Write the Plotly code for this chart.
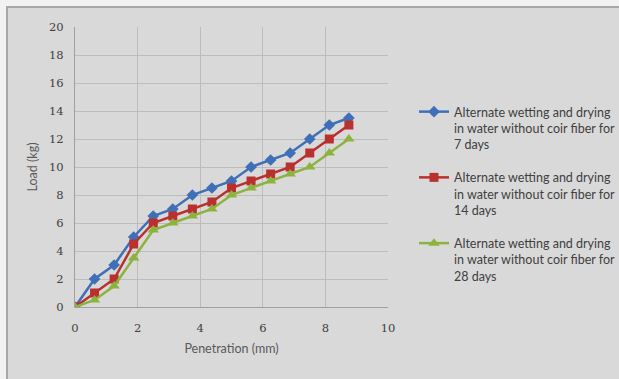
import plotly.graph_objects as go

penetration = [0, 0.625, 1.25, 1.875, 2.5, 3.125, 3.75, 4.375, 5, 5.625, 6.25, 6.875, 7.5, 8.125, 8.75]
load_7 = [0, 2, 3, 5, 6.5, 7, 8, 8.5, 9, 10, 10.5, 11, 12, 13, 13.5]
load_14 = [0, 1, 2, 4.5, 6, 6.5, 7, 7.5, 8.5, 9, 9.5, 10, 11, 12, 13]
load_28 = [0, 0.5, 1.5, 3.5, 5.5, 6, 6.5, 7, 8, 8.5, 9, 9.5, 10, 11, 12]
names = [
    "Alternate wetting and drying<br>in water without coir fiber for<br>7 days",
    "Alternate wetting and drying<br>in water without coir fiber for<br>14 days",
    "Alternate wetting and drying<br>in water without coir fiber for<br>28 days",
]
colors = ["#3F6FB6", "#B8312F", "#8DB33F"]
symbols = ["diamond", "square", "triangle-up"]
sizes = [9, 9, 10]

W, H = 619, 379
L, R, T, B = 75, 231, 27, 72
pw, ph = W - L - R, H - T - B

fig = go.Figure()
for i, (ys, nm, c, s, sz) in enumerate(zip([load_7, load_14, load_28], names, colors, symbols, sizes)):
    fig.add_trace(go.Scatter(x=penetration, y=ys, name=nm, mode="lines+markers",
                             legendgroup=f"g{i}",
                             line=dict(color=c, width=2.5),
                             marker=dict(symbol=s, size=sz, color=c)))

def px2x(p):
    return (p - L) / pw

def py2y(p):
    return (H - B - p) / ph

fig.add_shape(type="rect", xref="paper", yref="paper",
              x0=px2x(7), x1=px2x(W + 5), y0=py2y(H + 5), y1=py2y(7),
              fillcolor="#d9d9d9", line=dict(color="#a8a8a8", width=2), layer="below")

tickfont = dict(family="DejaVu Serif", size=11.5, color="#404040")
titlefont = dict(family="Lato", size=12.5, color="#595959")
fig.update_layout(
    width=W, height=H,
    margin=dict(l=L, r=R, t=T, b=B, autoexpand=False),
    paper_bgcolor="#f2f2f2",
    plot_bgcolor="rgba(0,0,0,0)",
    xaxis=dict(range=[0, 10], dtick=2, showgrid=True, gridcolor="#bcbcbc", gridwidth=1,
               zeroline=False, showline=True, linecolor="#a0a0a0", ticks="",
               tickfont=tickfont, ticklabelstandoff=10,
               title=dict(text="Penetration (mm)", font=titlefont, standoff=10)),
    yaxis=dict(range=[0, 20], dtick=2, showgrid=True, gridcolor="#bcbcbc", gridwidth=1,
               zeroline=False, showline=True, linecolor="#a0a0a0", ticks="",
               tickfont=tickfont, ticklabelstandoff=8,
               title=dict(text="Load (kg)", font=titlefont, standoff=8)),
    legend=dict(x=px2x(414), y=py2y(97), xanchor="left", yanchor="top",
                font=dict(family="Lato", size=12.5, color="#404040"),
                bgcolor="rgba(0,0,0,0)", valign="top", tracegroupgap=14,
                itemwidth=30),
    showlegend=True,
)

fig.write_html("out.html")
